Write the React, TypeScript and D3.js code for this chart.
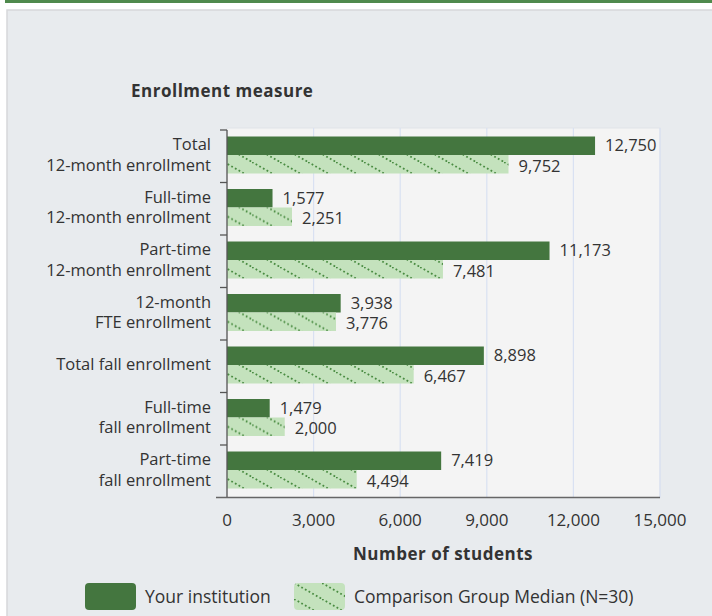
import { useEffect, useRef } from "react";
import * as d3 from "d3";

const categories = [
  ["Total", "12-month enrollment"],
  ["Full-time", "12-month enrollment"],
  ["Part-time", "12-month enrollment"],
  ["12-month", "FTE enrollment"],
  ["Total fall enrollment"],
  ["Full-time", "fall enrollment"],
  ["Part-time", "fall enrollment"],
];
const institution = [12750, 1577, 11173, 3938, 8898, 1479, 7419];
const median = [9752, 2251, 7481, 3776, 6467, 2000, 4494];
const xTicks = [0, 3000, 6000, 9000, 12000, 15000];
const seriesNames = ["Your institution", "Comparison Group Median (N=30)"];

const FONT = "'Open Sans', 'Noto Sans', sans-serif";

export default function App() {
  const ref = useRef<SVGSVGElement>(null);

  useEffect(() => {
    const width = 712;
    const height = 616;
    const svg = d3.select(ref.current).attr("width", width).attr("height", height);
    svg.selectAll("*").remove();

    const dark = "#44763f";
    const light = "#c4e2bd";
    const dots = "#4a8c42";

    // hatch pattern for comparison bars
    const defs = svg.append("defs");
    const pat = defs.append("pattern")
      .attr("id", "hatch")
      .attr("patternUnits", "userSpaceOnUse")
      .attr("width", 28).attr("height", 16);
    pat.append("rect").attr("width", 28).attr("height", 16).attr("fill", light);
    pat.append("line")
      .attr("x1", 0).attr("y1", 0).attr("x2", 28).attr("y2", 16)
      .attr("stroke", dots).attr("stroke-width", 1.8)
      .attr("stroke-dasharray", "1.8 2.4");

    // page background + panel
    svg.append("rect").attr("width", width).attr("height", height).attr("fill", "#fff");
    svg.append("rect").attr("x", 5).attr("y", 0).attr("width", width - 5).attr("height", 3).attr("fill", "#4f8a4d");
    svg.append("rect")
      .attr("x", 7).attr("y", 10).attr("width", width).attr("height", height)
      .attr("fill", "#e8ebee").attr("stroke", "#d6d8da").attr("stroke-width", 1.5);

    const left = 227, right = 660, top = 130, bottom = 497.5;

    const x = d3.scaleLinear().domain([0, 15000]).range([left, right]);
    const y = d3.scaleBand<number>()
      .domain(d3.range(categories.length))
      .range([top, bottom]);
    const inner = d3.scaleBand<number>().domain([0, 1]).range([6.5, 43.5]);

    // plot background
    svg.append("rect")
      .attr("x", left).attr("y", top - 2)
      .attr("width", right - left).attr("height", bottom - top + 2)
      .attr("fill", "#f4f4f4").attr("stroke", "#e0e3e8");

    // grid
    svg.append("g").selectAll("line")
      .data(xTicks.slice(1))
      .enter().append("line")
      .attr("x1", d => x(d)).attr("x2", d => x(d))
      .attr("y1", top - 2).attr("y2", bottom)
      .attr("stroke", "#d9e1f2").attr("stroke-width", 1.2);

    // bars
    const groups = svg.append("g").selectAll("g")
      .data(categories.map((c, i) => ({ i, vals: [institution[i], median[i]] })))
      .enter().append("g")
      .attr("transform", d => `translate(0,${y(d.i)})`);

    groups.selectAll("rect")
      .data(d => d.vals.map((v, k) => ({ v, k })))
      .enter().append("rect")
      .attr("x", x(0))
      .attr("y", d => inner(d.k)!)
      .attr("width", d => x(d.v) - x(0))
      .attr("height", inner.bandwidth())
      .attr("fill", d => (d.k === 0 ? dark : "url(#hatch)"));

    groups.selectAll("text")
      .data(d => d.vals.map((v, k) => ({ v, k })))
      .enter().append("text")
      .attr("x", d => x(d.v) + 10)
      .attr("y", d => inner(d.k)! + inner.bandwidth() / 2 + (d.k === 0 ? -1 : 1))
      .attr("dominant-baseline", "central")
      .attr("font-family", FONT).attr("font-size", 16.5).attr("fill", "#333")
      .text(d => d3.format(",")(d.v));

    // left axis
    svg.append("line")
      .attr("x1", left).attr("x2", left).attr("y1", top).attr("y2", bottom)
      .attr("stroke", "#555").attr("stroke-width", 1.3);
    svg.append("g").selectAll("line")
      .data(d3.range(categories.length))
      .enter().append("line")
      .attr("x1", left - 7).attr("x2", left)
      .attr("y1", d => y(d)!).attr("y2", d => y(d)!)
      .attr("stroke", "#555").attr("stroke-width", 1.3);

    // category labels
    const cat = svg.append("g").selectAll("text")
      .data(categories.map((c, i) => ({ c, i })))
      .enter().append("text")
      .attr("text-anchor", "end")
      .attr("font-family", FONT).attr("font-size", 16.5).attr("fill", "#333");
    cat.selectAll("tspan")
      .data(d => d.c.map((line, j) => ({ line, j, n: d.c.length, i: d.i })))
      .enter().append("tspan")
      .attr("x", 211)
      .attr("y", d => y(d.i)! + y.bandwidth() / 2 - 2.5 + (d.j - (d.n - 1) / 2) * 20.5)
      .attr("dominant-baseline", "central")
      .text(d => d.line);

    // bottom axis
    svg.append("line")
      .attr("x1", 216).attr("x2", right).attr("y1", bottom).attr("y2", bottom)
      .attr("stroke", "#666").attr("stroke-width", 1.5);
    svg.append("g").selectAll("text")
      .data(xTicks)
      .enter().append("text")
      .attr("x", d => x(d)).attr("y", 519)
      .attr("text-anchor", "middle").attr("dominant-baseline", "central")
      .attr("font-family", FONT).attr("font-size", 17).attr("fill", "#333")
      .text(d => d3.format(",")(d));

    // titles
    svg.append("text")
      .attr("x", 131).attr("y", 90)
      .attr("dominant-baseline", "central")
      .attr("font-family", FONT).attr("font-size", 17).attr("font-weight", "bold")
      .attr("letter-spacing", 0.5).attr("fill", "#333")
      .text("Enrollment measure");
    svg.append("text")
      .attr("x", 443).attr("y", 553)
      .attr("text-anchor", "middle").attr("dominant-baseline", "central")
      .attr("font-family", FONT).attr("font-size", 17).attr("font-weight", "bold")
      .attr("letter-spacing", 0.5).attr("fill", "#333")
      .text("Number of students");

    // legend
    const legendX = [85, 294];
    const lg = svg.append("g").selectAll("g")
      .data(seriesNames)
      .enter().append("g")
      .attr("transform", (d, i) => `translate(${legendX[i]},583)`);
    lg.append("rect")
      .attr("width", 51).attr("height", 27).attr("rx", 4)
      .attr("fill", (d, i) => (i === 0 ? dark : "url(#hatch)"));
    lg.append("text")
      .attr("x", 60).attr("y", 13)
      .attr("dominant-baseline", "central")
      .attr("font-family", FONT).attr("font-size", 17.5).attr("fill", "#333")
      .text(d => d);
  }, []);

  return <svg ref={ref} style={{ position: "absolute", left: 0, top: 0, display: "block" }} />;
}
